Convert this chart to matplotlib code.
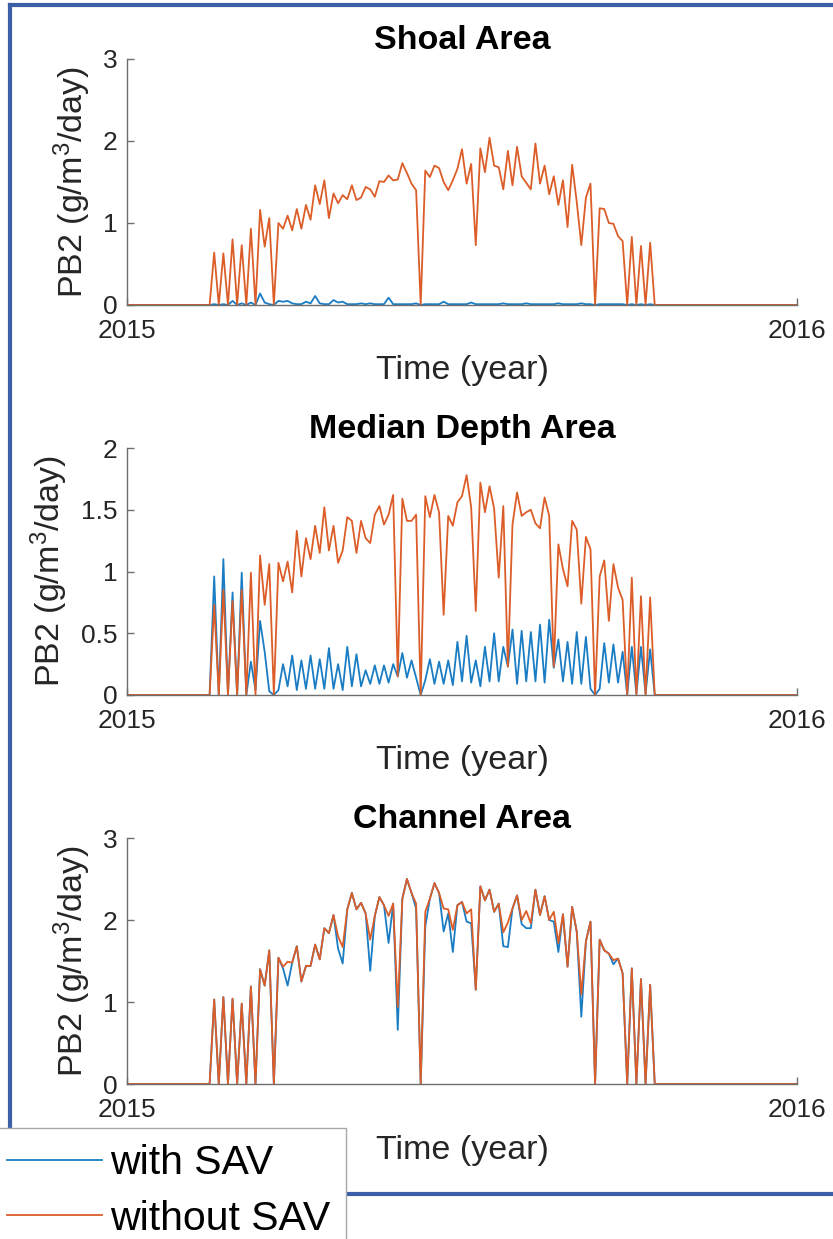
import numpy as np
import matplotlib
matplotlib.use('Agg')
import matplotlib.pyplot as plt
from matplotlib.lines import Line2D

plt.rcParams['font.family'] = ['Liberation Sans', 'DejaVu Sans']
plt.rcParams['mathtext.fontset'] = 'custom'
plt.rcParams['mathtext.rm'] = 'Liberation Sans'
plt.rcParams['mathtext.default'] = 'regular'

# model output every 2.5 days, growing season starts on day 45
start_day = 45.0
step_day = 2.5
n_lead = 18   # zero values before the season
n_tail = 31   # zero values after the season

titles = ['Shoal Area', 'Median Depth Area', 'Channel Area']
labels = ['with SAV', 'without SAV']

shoal_with = [0, 0.01, 0, 0.01, 0, 0.05, 0, 0.02, 0, 0.03, 0, 0.14, 0.03, 0.01, 0,
              0.05, 0.04, 0.05, 0.02, 0.01, 0.01, 0.04, 0.02, 0.11, 0.02, 0.01, 0.01,
              0.06, 0.03, 0.04, 0.01, 0.01, 0.01, 0.02, 0.01, 0.02, 0.01, 0.01, 0.01,
              0.09, 0.01, 0.01, 0.01, 0.01, 0.01, 0.02, 0, 0.01, 0.01, 0.01, 0.01,
              0.04, 0.01, 0.01, 0.01, 0.01, 0.01, 0.03, 0.01, 0.01, 0.01, 0.01, 0.01,
              0.01, 0.02, 0.01, 0.01, 0.01, 0.01, 0.02, 0.01, 0.01, 0.01, 0.01, 0.01,
              0.01, 0.02, 0.01, 0.01, 0.01, 0.01, 0.02, 0.01, 0.01, 0, 0.01, 0.01,
              0.01, 0.01, 0.01, 0.01, 0, 0.01, 0, 0.01, 0, 0.01, 0]
shoal_without = [0, 0.64, 0, 0.63, 0, 0.80, 0, 0.73, 0, 0.93, 0, 1.16, 0.71, 1.06, 0,
                 1.00, 0.93, 1.09, 0.91, 1.17, 0.93, 1.22, 1.04, 1.46, 1.23, 1.52, 1.06,
                 1.36, 1.24, 1.34, 1.29, 1.46, 1.28, 1.31, 1.44, 1.41, 1.32, 1.51, 1.50,
                 1.58, 1.52, 1.53, 1.73, 1.61, 1.48, 1.40, 0, 1.64, 1.56, 1.70, 1.67,
                 1.50, 1.40, 1.52, 1.66, 1.90, 1.48, 1.72, 0.73, 1.91, 1.62, 2.04, 1.70,
                 1.68, 1.41, 1.88, 1.46, 1.93, 1.57, 1.49, 1.41, 1.97, 1.48, 1.70, 1.35,
                 1.57, 1.22, 1.52, 0.95, 1.71, 1.26, 0.73, 1.31, 1.48, 0, 1.18, 1.17,
                 1.00, 0.99, 0.84, 0.78, 0, 0.83, 0, 0.72, 0, 0.76, 0]

median_with = [0, 0.96, 0, 1.10, 0, 0.83, 0, 0.99, 0, 0.27, 0.04, 0.60, 0.35, 0.03, 0,
               0.04, 0.25, 0.07, 0.32, 0.04, 0.28, 0.05, 0.32, 0.05, 0.29, 0.05, 0.38,
               0.05, 0.25, 0.04, 0.39, 0.07, 0.33, 0.07, 0.20, 0.09, 0.24, 0.09, 0.24,
               0.10, 0.25, 0.15, 0.34, 0.14, 0.28, 0.14, 0, 0.12, 0.29, 0.09, 0.27,
               0.09, 0.28, 0.08, 0.43, 0.11, 0.48, 0.10, 0.28, 0.07, 0.39, 0.11, 0.50,
               0.11, 0.39, 0.23, 0.53, 0.09, 0.52, 0.11, 0.51, 0.11, 0.57, 0.10, 0.61,
               0.22, 0.45, 0.11, 0.43, 0.09, 0.51, 0.09, 0.47, 0.05, 0, 0.05, 0.42,
               0.10, 0.41, 0.10, 0.35, 0, 0.39, 0.01, 0.39, 0.01, 0.37, 0]
median_without = [0, 0.73, 0, 0.85, 0, 0.76, 0, 0.85, 0, 0.99, 0, 1.13, 0.73, 1.06, 0,
                  1.07, 0.92, 1.08, 0.83, 1.33, 0.96, 1.27, 1.10, 1.37, 1.15, 1.52, 1.17,
                  1.37, 1.07, 1.17, 1.44, 1.41, 1.15, 1.41, 1.27, 1.23, 1.46, 1.53, 1.38,
                  1.46, 1.62, 0.15, 1.59, 1.41, 1.41, 1.46, 0, 1.61, 1.44, 1.62, 1.48,
                  0.65, 1.45, 1.37, 1.56, 1.61, 1.78, 1.52, 0.68, 1.72, 1.48, 1.69, 1.51,
                  0.95, 1.53, 0.23, 1.38, 1.64, 1.45, 1.48, 1.50, 1.39, 1.35, 1.60, 1.45,
                  0.23, 1.22, 1.02, 0.88, 1.41, 1.34, 0.74, 1.28, 1.18, 0, 0.96, 1.09,
                  0.60, 1.06, 0.87, 0.77, 0, 0.95, 0, 0.80, 0, 0.79, 0]

channel_with = [0, 1.03, 0, 1.06, 0, 1.04, 0, 0.98, 0, 1.19, 0, 1.40, 1.20, 1.63, 0,
                1.54, 1.41, 1.20, 1.48, 1.68, 1.25, 1.44, 1.44, 1.70, 1.52, 1.90, 1.84,
                2.06, 1.65, 1.47, 2.13, 2.33, 2.13, 2.21, 2.08, 1.38, 2.05, 2.28, 2.18,
                1.72, 2.20, 0.66, 2.26, 2.50, 2.33, 2.14, 0, 1.92, 2.26, 2.45, 2.33,
                1.86, 2.08, 1.61, 2.18, 2.22, 1.98, 1.96, 1.15, 2.41, 2.24, 2.37, 2.10,
                2.20, 1.68, 1.67, 2.14, 2.30, 1.95, 1.90, 1.90, 2.37, 2.06, 2.29, 2.00,
                1.98, 1.61, 2.07, 1.43, 2.16, 1.86, 0.82, 1.74, 1.98, 0, 1.76, 1.63,
                1.59, 1.46, 1.53, 1.35, 0, 1.41, 0, 1.28, 0, 1.21, 0]
channel_without = [0, 1.03, 0, 1.06, 0, 1.04, 0, 0.98, 0, 1.19, 0, 1.40, 1.20, 1.63, 0,
                   1.54, 1.43, 1.49, 1.48, 1.68, 1.25, 1.44, 1.44, 1.70, 1.52, 1.90, 1.84,
                   2.06, 1.80, 1.67, 2.13, 2.33, 2.13, 2.21, 2.08, 1.76, 2.05, 2.28, 2.18,
                   2.05, 2.20, 0.94, 2.26, 2.50, 2.33, 2.20, 0, 2.10, 2.26, 2.45, 2.33,
                   2.14, 2.13, 1.88, 2.18, 2.22, 2.08, 2.13, 1.15, 2.41, 2.24, 2.37, 2.10,
                   2.20, 1.85, 1.97, 2.14, 2.30, 2.00, 2.11, 1.96, 2.37, 2.06, 2.29, 2.00,
                   2.10, 1.72, 2.07, 1.43, 2.16, 1.86, 1.09, 1.74, 1.98, 0, 1.76, 1.63,
                   1.59, 1.51, 1.53, 1.35, 0, 1.41, 0, 1.28, 0, 1.21, 0]

y_max = [3, 2, 3]
y_ticks = [[0, 1, 2, 3], [0, 0.5, 1, 1.5, 2], [0, 1, 2, 3]]
y_ticklabels = [['0', '1', '2', '3'], ['0', '0.5', '1', '1.5', '2'], ['0', '1', '2', '3']]

with_sav = [shoal_with, median_with, channel_with]
without_sav = [shoal_without, median_without, channel_without]


def full_year(vals):
    return np.concatenate([np.zeros(n_lead), np.array(vals, float), np.zeros(n_tail)])


n_total = n_lead + len(shoal_with) + n_tail
days = (start_day - n_lead * step_day) + step_day * np.arange(n_total)
t = 2015 + days / 365.0

W, H = 833, 1239
fig = plt.figure(figsize=(W / 100, H / 100), dpi=100)

blue = '#1a7dc4'
orange = '#dc5d28'
axis_col = '#6e6e6e'
text_col = '#262626'

# axes boxes in pixels: top, bottom; right edge of the y label
boxes = [(59, 305), (448, 695), (838, 1084)]
ylab_right = [93, 70, 93]
left_px, right_px = 127, 797

for i in range(3):
    top, bot = boxes[i]
    ax = fig.add_axes([left_px / W, 1 - bot / H, (right_px - left_px) / W, (bot - top) / H])
    ax.plot(t, full_year(with_sav[i]), color=blue, lw=1.3)
    ax.plot(t, full_year(without_sav[i]), color=orange, lw=1.3)
    ax.set_xlim(2015, 2016)
    ax.set_ylim(0, y_max[i])
    ax.set_xticks([2015, 2016])
    ax.set_xticklabels(['2015', '2016'])
    ax.set_yticks(y_ticks[i])
    ax.set_yticklabels(y_ticklabels[i])
    for s in ['top', 'right']:
        ax.spines[s].set_visible(False)
    for s in ['left', 'bottom']:
        ax.spines[s].set_color(axis_col)
        ax.spines[s].set_linewidth(1.0)
    ax.tick_params(direction='in', length=5, width=1.0, color=axis_col,
                   labelsize=19, labelcolor=text_col)
    ax.tick_params(axis='x', pad=10)
    ax.tick_params(axis='y', pad=7)
    ax.set_title(titles[i], fontsize=24.5, fontweight='bold', pad=7)
    ax.set_xlabel('Time (year)', fontsize=24.5, color=text_col, va='top')
    # top of the label sits about 50 px below the axis
    ax.xaxis.set_label_coords(0.5, -50.5 / (bot - top))
    ax.set_ylabel('PB2 (g/m$^{3}$/day)', fontsize=24.5, color=text_col)
    ax.yaxis.set_label_coords((ylab_right[i] - left_px) / (right_px - left_px), 0.5)

# blue frame around the figure
frame_col = '#3d5fa8'
fx = lambda px: px / W
fy = lambda py: 1 - py / H
fig.add_artist(Line2D([fx(10), fx(W)], [fy(5), fy(5)], color=frame_col, lw=3, transform=fig.transFigure))
fig.add_artist(Line2D([fx(10), fx(10)], [fy(5), fy(1194)], color=frame_col, lw=3, transform=fig.transFigure))
fig.add_artist(Line2D([fx(10), fx(W)], [fy(1194), fy(1194)], color=frame_col, lw=3, transform=fig.transFigure))

handles = [Line2D([], [], color=blue, lw=1.3), Line2D([], [], color=orange, lw=1.3)]
leg = fig.legend(handles, labels, loc='upper left', bbox_to_anchor=(fx(-9), fy(1128)),
                 bbox_transform=fig.transFigure, fontsize=29.5, frameon=True,
                 fancybox=False, framealpha=1, edgecolor='#a8a8a8',
                 borderpad=0.4, handlelength=2.3, handletextpad=0.2,
                 labelspacing=0.42, borderaxespad=0)
leg.get_frame().set_linewidth(1.0)

fig.savefig('out.png', dpi=100)
